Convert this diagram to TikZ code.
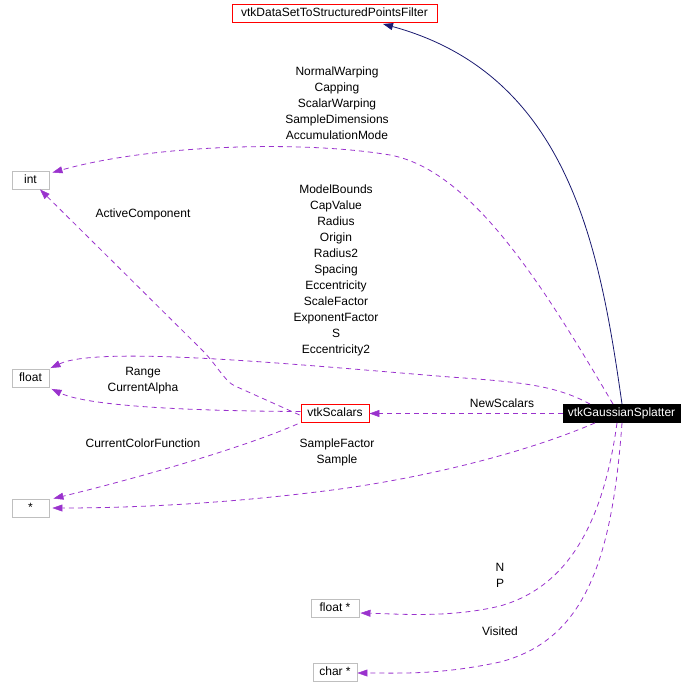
\documentclass[tikz,border=0pt]{standalone}
\usepackage{fontspec}
\setmainfont{Liberation Sans}
\usetikzlibrary{arrows.meta}
\definecolor{edgepurple}{HTML}{9A32CD}
\definecolor{edgenavy}{HTML}{191970}
\definecolor{boxgray}{HTML}{BFBFBF}
\tikzset{
  cls/.style={draw=boxgray, line width=0.9pt, inner sep=0pt, minimum height=18pt,
    text height=8.6pt, text depth=2.4pt, font=\fontsize{12}{14}\selectfont},
  redcls/.style={cls, draw=red},
  maincls/.style={cls, draw=black, fill=black, text=white},
  lbl/.style={inner sep=0pt, align=center, font=\fontsize{12}{16}\selectfont},
  usage/.style={draw=edgepurple, line width=0.8pt, dash pattern=on 5pt off 4pt,
    -{Triangle[length=10pt,width=7pt,fill=edgepurple,line width=0.5pt]}},
  inherit/.style={draw=edgenavy, line width=0.8pt,
    -{Triangle[length=10pt,width=7pt,fill=edgenavy]}}
}
\begin{document}
\begin{tikzpicture}[x=1pt,y=-1pt]
\useasboundingbox (0,0) rectangle (696,698);
% nodes
\node[redcls, minimum width=205pt] (top) at (334.5,13.5) {vtkDataSetToStructuredPointsFilter};
\node[cls, minimum width=37pt] (int) at (30.5,180) {int};
\node[cls, minimum width=37pt] (flt) at (30.5,378.5) {float};
\node[cls, minimum width=37pt] (star) at (30.5,508) {*};
\node[redcls, minimum width=68pt] (scal) at (335,413.5) {vtkScalars};
\node[maincls, minimum width=117pt] (gauss) at (621.5,413.5) {vtkGaussianSplatter};
\node[cls, minimum width=48pt] (fltp) at (335,608) {float *};
\node[cls, minimum width=44pt] (charp) at (335,672) {char *};
% labels
\node[lbl] (l1) at (337,103.5) {NormalWarping\\Capping\\ScalarWarping\\SampleDimensions\\AccumulationMode};
\node[lbl] (l2) at (336,270) {ModelBounds\\CapValue\\Radius\\Origin\\Radius2\\Spacing\\Eccentricity\\ScaleFactor\\ExponentFactor\\S\\Eccentricity2};
\node[lbl] (l3) at (143,214) {ActiveComponent};
\node[lbl] (l4) at (143,381) {Range\\CurrentAlpha};
\node[lbl] (l5) at (143,443.5) {CurrentColorFunction};
\node[lbl] (l6) at (502,403) {NewScalars};
\node[lbl] (l7) at (337,452.5) {SampleFactor\\Sample};
\node[lbl] (l8) at (500,575) {N\\P};
\node[lbl] (l9) at (500,631) {Visited};
% edges
\draw[inherit] ([shift={(0.5,0)}]gauss.north) .. controls (600,250) and (570,75) .. ([shift={(48.5,1)}]top.south);
\draw[usage] ([shift={(-8.5,0)}]gauss.north) .. controls (540,280) and (470,170) .. (390,155)
  .. controls (300,140) and (150,145) .. ([shift={(3,2)}]int.north east);
\draw[usage] ([shift={(-31.5,0)}]gauss.north) .. controls (555,385) and (520,382) .. (450,377)
  .. controls (300,365) and (100,345) .. ([shift={(1,-1)}]flt.north east);
\draw[usage] ([shift={(-1,-8)}]scal.south west) -- (235,386) .. controls (225,382) and (215,362) .. (200,348)
  -- ([shift={(9.5,0)}]int.south);
\draw[usage] ([shift={(0,-2)}]scal.west) .. controls (200,411) and (90,407) .. ([shift={(2,1)}]flt.south east);
\draw[usage] ([shift={(-3,1)}]scal.south west) .. controls (250,445) and (150,475) .. ([shift={(4,0)}]star.north east);
\draw[usage] ([shift={(-26.5,0)}]gauss.south) .. controls (520,455) and (420,478) .. (340,489)
  .. controls (220,505) and (120,508) .. ([shift={(3,0)}]star.east);
\draw[usage] (gauss.west) -- (scal.east);
\draw[usage] ([shift={(-4.5,0)}]gauss.south) .. controls (605,510) and (575,585) .. (500,606)
  .. controls (450,618) and (400,614) .. ([shift={(1,5)}]fltp.east);
\draw[usage] ([shift={(0.5,0)}]gauss.south) .. controls (612,560) and (585,640) .. (500,662)
  .. controls (440,675) and (400,673) .. ([shift={(0,1)}]charp.east);
\end{tikzpicture}
\end{document}
